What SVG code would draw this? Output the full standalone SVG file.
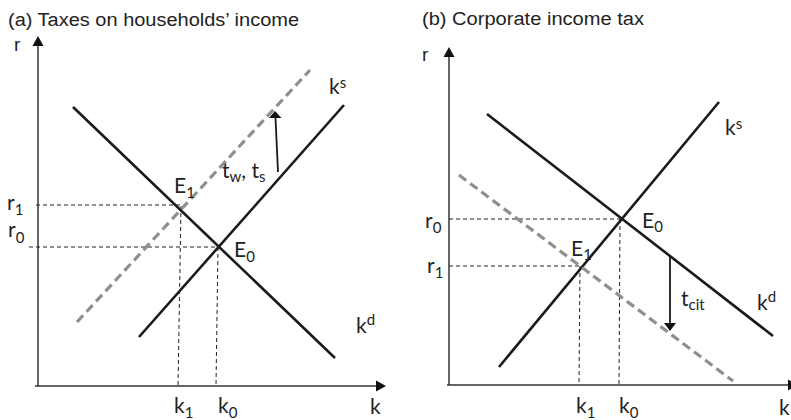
<svg xmlns="http://www.w3.org/2000/svg" width="791" height="420" viewBox="0 0 791 420">
<defs>
<style>
.title{font-family:"Liberation Sans",Arial,sans-serif;font-size:18px;fill:#222}
.ax{font-family:"Liberation Sans",Arial,sans-serif;font-size:19px;fill:#222}
.lbl{font-family:Lato,"Open Sans",sans-serif;font-size:21px;fill:#222}
.sub{font-size:15px}
.axis{stroke:#333;stroke-width:1.5;fill:none}
.curve{stroke:#1a1a1a;stroke-width:2.6;fill:none}
.shift{stroke:#8f8f8f;stroke-width:3.2;stroke-dasharray:9,5;fill:none}
.guide{stroke:#222;stroke-width:1;stroke-dasharray:4,3;fill:none}
.tax{stroke:#1a1a1a;stroke-width:1.8;fill:none}
.head{fill:#111}
</style>
</defs>
<rect width="791" height="420" fill="#fff"/>

<g id="panel-a">
  <text class="title" x="8" y="26" textLength="291" lengthAdjust="spacingAndGlyphs">(a) Taxes on households’ income</text>
  <g id="a-axes">
    <line class="axis" x1="38" y1="386" x2="38" y2="44"/>
    <polygon class="head" points="38,36 32.5,46 43.5,46"/>
    <line class="axis" x1="35" y1="386" x2="377" y2="386"/>
    <polygon class="head" points="386,386 376,380.5 376,391.5"/>
    <text class="ax" x="14" y="51">r</text>
    <text class="lbl" x="370" y="414">k</text>
  </g>
  <g id="a-guides">
    <line class="guide" x1="36" y1="205" x2="181" y2="205"/>
    <line class="guide" x1="181" y1="206" x2="178" y2="386"/>
    <line class="guide" x1="29" y1="247" x2="218" y2="247"/>
    <line class="guide" x1="218" y1="247" x2="216" y2="386"/>
  </g>
  <g id="a-kd"><line class="curve" x1="73" y1="107" x2="335" y2="358"/></g>
  <g id="a-ks"><line class="curve" x1="139" y1="337" x2="344" y2="105"/></g>
  <g id="a-ks-shifted"><line class="shift" x1="77" y1="322" x2="310" y2="70"/></g>
  <g id="a-tax-arrow">
    <line class="tax" x1="278" y1="172" x2="275.5" y2="118"/>
    <polygon class="head" points="275,111 269,118 281.5,118"/>
  </g>
  <g id="a-labels" class="lbl">
    <text x="7" y="210">r<tspan class="sub" dy="5">1</tspan></text>
    <text x="8" y="237">r<tspan class="sub" dy="6">0</tspan></text>
    <text x="174" y="193">E<tspan class="sub" dy="5">1</tspan></text>
    <text x="234" y="257">E<tspan class="sub" dy="5">0</tspan></text>
    <text x="174" y="413">k<tspan class="sub" dy="5">1</tspan></text>
    <text x="218" y="413">k<tspan class="sub" dy="5">0</tspan></text>
    <text x="329" y="94">k<tspan class="sub" dy="-6">s</tspan></text>
    <text x="356" y="333">k<tspan class="sub" dy="-8">d</tspan></text>
    <text x="222" y="178">t<tspan class="sub" dy="4">w</tspan><tspan dy="-4">, t</tspan><tspan class="sub" dy="4">s</tspan></text>
  </g>
</g>

<g id="panel-b">
  <text class="title" x="422" y="25" textLength="222" lengthAdjust="spacingAndGlyphs">(b) Corporate income tax</text>
  <g id="b-axes">
    <line class="axis" x1="449" y1="385" x2="449" y2="55"/>
    <polygon class="head" points="449,47 443.5,57 454.5,57"/>
    <line class="axis" x1="447" y1="385" x2="791" y2="385"/>
    <polygon class="head" points="798,385 788,379.5 788,390.5"/>
    <text class="ax" x="422" y="61">r</text>
    <text class="lbl" x="779" y="415">k</text>
  </g>
  <g id="b-guides">
    <line class="guide" x1="449" y1="219" x2="622" y2="219"/>
    <line class="guide" x1="620" y1="219" x2="619" y2="385"/>
    <line class="guide" x1="449" y1="266" x2="580" y2="266"/>
    <line class="guide" x1="580" y1="266" x2="579" y2="385"/>
  </g>
  <g id="b-kd"><line class="curve" x1="487" y1="114" x2="773" y2="336"/></g>
  <g id="b-ks"><line class="curve" x1="499" y1="367" x2="719" y2="102"/></g>
  <g id="b-kd-shifted"><line class="shift" x1="459" y1="175" x2="733" y2="381"/></g>
  <g id="b-tax-arrow">
    <line class="tax" x1="670" y1="257" x2="670" y2="324"/>
    <polygon class="head" points="670,331 664,323 676,323"/>
  </g>
  <g id="b-labels" class="lbl">
    <text x="425" y="228">r<tspan class="sub" dy="5">0</tspan></text>
    <text x="427" y="273">r<tspan class="sub" dy="5">1</tspan></text>
    <text x="642" y="228">E<tspan class="sub" dy="4">0</tspan></text>
    <text x="571" y="256">E<tspan class="sub" dy="4">1</tspan></text>
    <text x="576" y="413">k<tspan class="sub" dy="5">1</tspan></text>
    <text x="619" y="413">k<tspan class="sub" dy="5">0</tspan></text>
    <text x="725" y="135">k<tspan class="sub" dy="-6">s</tspan></text>
    <text x="757" y="310">k<tspan class="sub" dy="-8">d</tspan></text>
    <text x="681" y="306">t<tspan class="sub" dy="4">cit</tspan></text>
  </g>
</g>
</svg>
